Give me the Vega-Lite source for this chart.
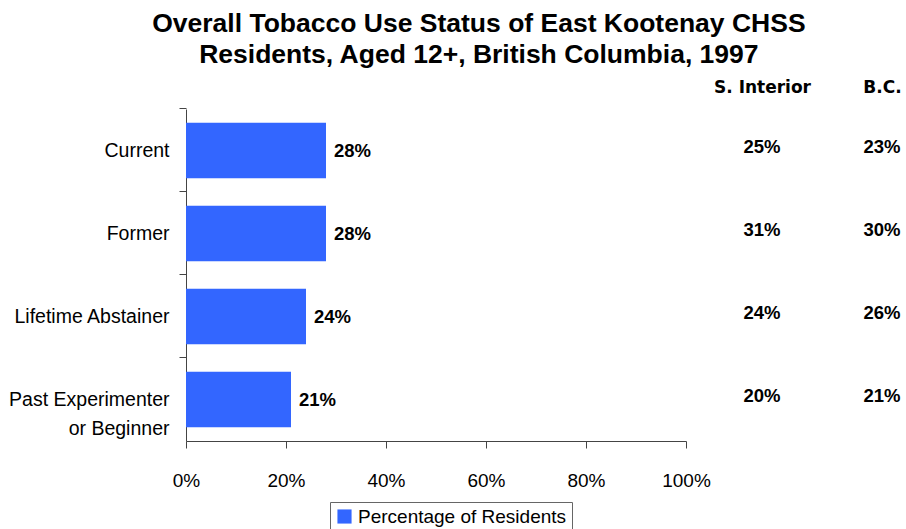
{
  "$schema": "https://vega.github.io/schema/vega-lite/v6.json",
  "background": "white",
  "padding": {"left": 8, "top": 10, "right": 0, "bottom": 0},
  "autosize": {"type": "pad"},
  "bounds": "flush",
  "spacing": 76,
  "config": {"font": "Liberation Sans", "view": {"stroke": null}},
  "title": {
    "text": ["Overall Tobacco Use Status of East Kootenay CHSS", "Residents, Aged 12+, British Columbia, 1997"],
    "fontSize": 26.5, "fontWeight": "bold", "font": "Liberation Sans", "anchor": "middle",
    "lineHeight": 31, "offset": 10, "color": "black", "dx": 24
  },
  "datasets": {
    "main": [
      {"status": "Current", "pct": 0.28, "series": "Percentage of Residents"},
      {"status": "Former", "pct": 0.28, "series": "Percentage of Residents"},
      {"status": "Lifetime Abstainer", "pct": 0.24, "series": "Percentage of Residents"},
      {"status": "Past Experimenter or Beginner", "pct": 0.21, "series": "Percentage of Residents"}
    ],
    "regions": [
      {"status": "Current", "region": "S. Interior", "pct": 0.25},
      {"status": "Former", "region": "S. Interior", "pct": 0.31},
      {"status": "Lifetime Abstainer", "region": "S. Interior", "pct": 0.24},
      {"status": "Past Experimenter or Beginner", "region": "S. Interior", "pct": 0.20},
      {"status": "Current", "region": "B.C.", "pct": 0.23},
      {"status": "Former", "region": "B.C.", "pct": 0.30},
      {"status": "Lifetime Abstainer", "region": "B.C.", "pct": 0.26},
      {"status": "Past Experimenter or Beginner", "region": "B.C.", "pct": 0.21}
    ]
  },
  "resolve": {"legend": {"color": "independent"}},
  "hconcat": [
    {
      "width": 500,
      "height": 332,
      "data": {"name": "main"},
      "encoding": {
        "y": {
          "field": "status", "type": "nominal",
          "sort": ["Current", "Former", "Lifetime Abstainer", "Past Experimenter or Beginner"],
          "scale": {"paddingInner": 0.33, "paddingOuter": 0.165},
          "axis": {
            "title": null, "labelFontSize": 19.5, "labelColor": "black", "tickSize": 7,
            "labelPadding": 10, "bandPosition": -0.2463, "domainColor": "#444", "tickColor": "#444",
            "labelLineHeight": 29,
            "labelExpr": "datum.value == 'Past Experimenter or Beginner' ? ['Past Experimenter', 'or Beginner'] : datum.value"
          }
        },
        "x": {
          "field": "pct", "type": "quantitative",
          "scale": {"domain": [0, 1]},
          "axis": {
            "format": ".0%", "values": [0, 0.2, 0.4, 0.6, 0.8, 1], "title": null, "grid": false,
            "labelFontSize": 19, "labelColor": "black", "tickSize": 7, "labelPadding": 23,
            "labelFlush": false, "domainColor": "#444", "tickColor": "#444"
          }
        }
      },
      "layer": [
        {
          "mark": {"type": "bar", "color": "#3366FF"},
          "encoding": {
            "color": {
              "field": "series", "type": "nominal",
              "scale": {"range": ["#3366FF"]},
              "legend": {
                "orient": "none", "legendX": 144, "legendY": 393, "title": null,
                "labelFontSize": 19, "labelColor": "black", "symbolType": "square",
                "symbolSize": 200, "symbolStrokeWidth": 0, "strokeColor": "#666",
                "padding": 5, "labelOffset": 4, "labelLimit": 400
              }
            }
          }
        },
        {
          "mark": {"type": "text", "align": "left", "dx": 8, "fontWeight": "bold", "fontSize": 18.5, "color": "black"},
          "encoding": {"text": {"field": "pct", "format": ".0%"}}
        }
      ]
    },
    {
      "width": 120,
      "height": 332,
      "data": {"name": "regions"},
      "mark": {"type": "text", "fontSize": 18.5, "fontWeight": "bold", "dy": -4, "color": "black"},
      "encoding": {
        "x": {
          "field": "region", "type": "nominal", "sort": ["S. Interior", "B.C."],
          "scale": {"type": "point", "padding": 0},
          "axis": {
            "orient": "top", "title": null, "domain": false, "ticks": false,
            "labelFont": "DejaVu Sans", "labelFontWeight": "bold", "labelFontSize": 17,
            "labelPadding": 13, "labelColor": "black", "labelAngle": 0
          }
        },
        "y": {
          "field": "status", "type": "nominal",
          "sort": ["Current", "Former", "Lifetime Abstainer", "Past Experimenter or Beginner"],
          "scale": {"paddingInner": 0.33, "paddingOuter": 0.165},
          "axis": null
        },
        "text": {"field": "pct", "format": ".0%"}
      }
    }
  ]
}
